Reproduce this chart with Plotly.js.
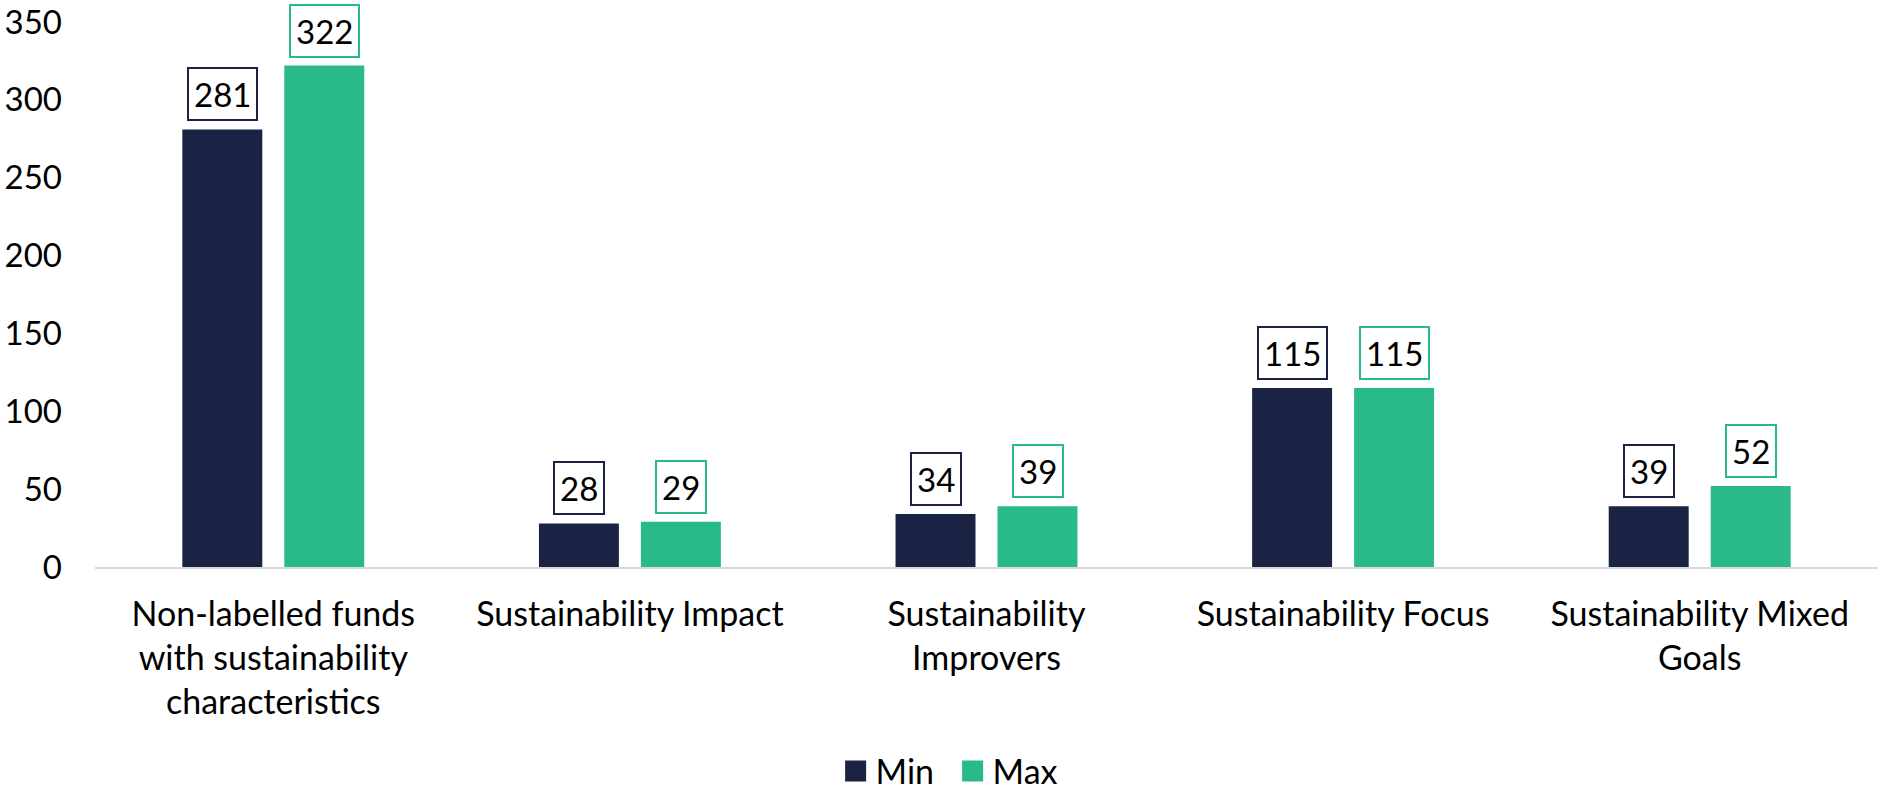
<!DOCTYPE html>
<html>
<head>
<meta charset="utf-8">
<script src="https://cdn.plot.ly/plotly-3.0.1.min.js"></script>
<style>html,body{margin:0;padding:0;background:#fff;}#chart{width:1878px;height:790px;}</style>
</head>
<body>
<div id="chart"></div>
<script>
const categories = [
  "Non-labelled funds<br>with sustainability<br>characteristics",
  "Sustainability Impact",
  "Sustainability<br>Improvers",
  "Sustainability Focus",
  "Sustainability Mixed<br>Goals"
];
const minValues = [281, 28, 34, 115, 39];
const maxValues = [322, 29, 39, 115, 52];
const seriesNames = ["Min", "Max"];
const yTicks = [0, 50, 100, 150, 200, 250, 300, 350];

const navy = "#1b2344";
const green = "#29b98b";
const fontFamily = "Lato, 'Open Sans', sans-serif";
const fs = 34;

const traces = [
  {type: "bar", name: seriesNames[0], x: categories, y: minValues, marker: {color: navy}, hoverinfo: "y"},
  {type: "bar", name: seriesNames[1], x: categories, y: maxValues, marker: {color: green}, hoverinfo: "y"}
];

const annotations = [];
[[minValues, navy, -51], [maxValues, green, 51]].forEach(([vals, col, shift]) => {
  vals.forEach((v, i) => {
    annotations.push({
      x: categories[i], y: v, xref: "x", yref: "y",
      text: String(v), showarrow: false,
      xshift: shift, yshift: 8, yanchor: "bottom",
      bordercolor: col, borderwidth: 2, borderpad: 5, bgcolor: "#ffffff",
      font: {family: fontFamily, size: 33, color: "#000"}
    });
  });
});

const layout = {
  width: 1878, height: 790,
  margin: {l: 95, r: 0, t: 22, b: 223, autoexpand: false},
  paper_bgcolor: "#fff", plot_bgcolor: "#fff",
  font: {family: fontFamily, size: fs, color: "#000"},
  barmode: "group", bargap: 0.428, bargroupgap: 0.216,
  xaxis: {
    showgrid: false, zeroline: false, showline: true, linecolor: "#d9d9d9", linewidth: 2,
    ticks: "", ticklabelstandoff: 16, tickfont: {family: fontFamily, size: fs}, automargin: false
  },
  yaxis: {
    range: [0, 350], tickvals: yTicks, showgrid: false, zeroline: false, showline: false,
    ticks: "", ticklabelstandoff: 32, tickfont: {family: fontFamily, size: 33}, automargin: false
  },
  legend: {orientation: "h", x: 0.481, xanchor: "center", y: -0.375, yanchor: "middle",
    font: {family: fontFamily, size: fs}, itemwidth: 30, entrywidth: 72, entrywidthmode: "pixels"},
  showlegend: true,
  annotations: annotations
};

const gd = document.getElementById("chart");
function bigSwatches() {
  gd.querySelectorAll(".legendpoints path").forEach(p => {
    p.setAttribute("d", "M10.5,10.5H-10.5V-10.5H10.5Z");
    p.style.strokeWidth = "0px";
  });
}
Plotly.newPlot(gd, traces, layout, {displayModeBar: false, staticPlot: true}).then(() => {
  bigSwatches();
  gd.on("plotly_afterplot", bigSwatches);
});
</script>
</body>
</html>
